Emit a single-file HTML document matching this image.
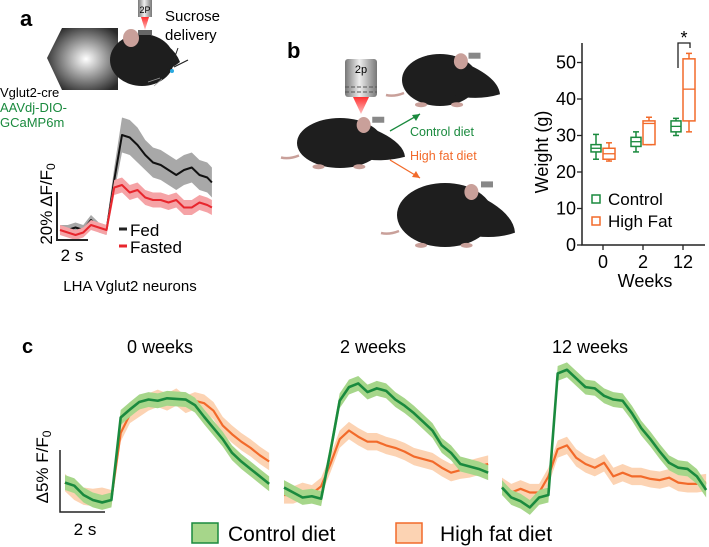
<!DOCTYPE html>
<html><head><meta charset="utf-8"><style>
html,body{margin:0;padding:0;background:#fff;}
svg{display:block;font-family:"Liberation Sans",sans-serif;}
</style></head><body>
<svg id="fig" width="709" height="547" viewBox="0 0 709 547">
<defs>
<radialGradient id="tubeG" cx="0.55" cy="0.5" r="0.6"><stop offset="0" stop-color="#fff"/><stop offset="1" stop-color="#2a2a2a"/></radialGradient>
<linearGradient id="objG" x1="0" x2="1"><stop offset="0" stop-color="#777"/><stop offset="0.45" stop-color="#eee"/><stop offset="1" stop-color="#777"/></linearGradient>
<linearGradient id="beamG" x1="0" y1="0" x2="0" y2="1"><stop offset="0" stop-color="#ff3030"/><stop offset="1" stop-color="#ffc0c0"/></linearGradient>
</defs>
<!-- Panel a -->
<text x="20" y="26" font-size="22" font-weight="bold">a</text>
<g>
<polygon points="47,58 62,28 118,28 118,90 62,90" fill="url(#tubeG)"/>
<ellipse cx="142" cy="60" rx="32" ry="26" fill="#1e1e1e"/>
<path d="M150,40 Q172,42 180,62 Q168,72 148,74 Z" fill="#1e1e1e"/>
<ellipse cx="131" cy="38" rx="8" ry="9" fill="#c9a09a"/>
<rect x="138" y="0" width="14" height="17" fill="url(#objG)"/><text x="145" y="13" font-size="9" text-anchor="middle">2P</text>
<polygon points="141,17 149,17 145,30" fill="url(#beamG)"/>
<rect x="138" y="30" width="14" height="5" fill="#666"/>
<line x1="174" y1="67" x2="188" y2="60" stroke="#222" stroke-width="1.2"/>
<line x1="178" y1="48" x2="173" y2="62" stroke="#222" stroke-width="1"/>
<circle cx="172" cy="71" r="2" fill="#29a9e0"/>
<path d="M160,78 l-12,4 M162,79 l-8,7" stroke="#999" stroke-width="0.7"/>
</g>
<text x="165" y="22" font-size="15"><tspan x="165" y="21">Sucrose</tspan><tspan x="165" y="40">delivery</tspan></text>
<text x="0" y="97" font-size="13">Vglut2-cre</text>
<text x="0" y="112" font-size="13" fill="#1a8a3e"><tspan x="0" y="112">AAVdj-DIO-</tspan><tspan x="0" y="127">GCaMP6m</tspan></text>
<g id="aTraces"></g>
<g>
<polyline points="57,192 57,240 88,240" fill="none" stroke="#222" stroke-width="2"/>
</g>
<text x="72" y="261" font-size="17" text-anchor="middle">2 s</text>
<text transform="translate(52,204) rotate(-90)" font-size="17" text-anchor="middle">20% ΔF/F<tspan font-size="12" dy="3">0</tspan></text>
<g>
<line x1="119" y1="229" x2="127" y2="229" stroke="#222" stroke-width="3"/>
<text x="130" y="236" font-size="17">Fed</text>
<line x1="119" y1="246" x2="127" y2="246" stroke="#e8262d" stroke-width="3"/>
<text x="130" y="253" font-size="17">Fasted</text>
</g>
<text x="130" y="291" font-size="15" text-anchor="middle">LHA Vglut2 neurons</text>

<!-- Panel b -->
<text x="287" y="58" font-size="22" font-weight="bold">b</text>
<g id="mice">
<rect x="345" y="59" width="32" height="38" rx="3" fill="url(#objG)"/>
<line x1="345" y1="87" x2="377" y2="87" stroke="#555" stroke-dasharray="4,2"/>
<line x1="345" y1="92" x2="377" y2="92" stroke="#555" stroke-dasharray="4,2"/>
<text x="361" y="73" font-size="11" text-anchor="middle">2p</text>
<polygon points="353,97 369,97 361,114" fill="url(#beamG)"/>
<line x1="390" y1="131" x2="420" y2="114" stroke="#1a8a3e" stroke-width="1.3"/>
<polygon points="420,114 412,115 416,121" fill="#1a8a3e"/>
<line x1="390" y1="160" x2="420" y2="178" stroke="#f26a2a" stroke-width="1.3"/>
<polygon points="420,178 416,171 412,177" fill="#f26a2a"/>
</g>
<text x="410" y="136" font-size="12.5" fill="#1a8a3e">Control diet</text>
<text x="410" y="160" font-size="12.5" fill="#f26a2a">High fat diet</text>
<g id="boxChart"></g>
<text transform="translate(548,152) rotate(-90)" font-size="18" text-anchor="middle">Weight (g)</text>
<text x="645" y="287" font-size="18" text-anchor="middle">Weeks</text>
<g>
<rect x="592" y="195" width="8" height="8" fill="#fff" stroke="#1a8a3e" stroke-width="1.5"/>
<text x="608" y="205" font-size="17">Control</text>
<rect x="592" y="217" width="8" height="8" fill="#fff" stroke="#f26a2a" stroke-width="1.5"/>
<text x="608" y="227" font-size="17">High Fat</text>
</g>
<g>
<polyline points="678,68 678,43 690,43 690,48" fill="none" stroke="#222" stroke-width="1.3"/>
<text x="684" y="44" font-size="18" text-anchor="middle">*</text>
</g>

<!-- Panel c -->
<text x="22" y="353" font-size="20" font-weight="bold">c</text>
<text x="160" y="353" font-size="18" text-anchor="middle">0 weeks</text>
<text x="373" y="353" font-size="18" text-anchor="middle">2 weeks</text>
<text x="590" y="353" font-size="18" text-anchor="middle">12 weeks</text>
<g id="cTraces"></g>
<polyline points="60,450 60,512 105,512" fill="none" stroke="#222" stroke-width="1.5"/>
<text x="85" y="535" font-size="17" text-anchor="middle">2 s</text>
<text transform="translate(48,467) rotate(-90)" font-size="17" text-anchor="middle">Δ5% F/F<tspan font-size="12" dy="3">0</tspan></text>
<g>
<rect x="192" y="523" width="26" height="20" fill="#a6d68a" stroke="#1a8a3e" stroke-width="1.5"/>
<text x="228" y="541" font-size="21">Control diet</text>
<rect x="396" y="523" width="26" height="20" fill="#fcd3b3" stroke="#f26a2a" stroke-width="1.5"/>
<text x="440" y="541" font-size="21">High fat diet</text>
</g>
</svg>
<script>
// ---------- Panel a data ----------
const aTimes = [0,0.5,1,1.5,2,2.5,3,3.5,4,4.5,5,5.5,6,6.5,7,7.5,8,8.5,9,9.5,9.8];
const aFed =    [0,0,1,0,4,1,0,20,38,37,34,30,27,26,24,22,24,25,22,21,19];
const aFasted = [0,-1,-2,-1,2,1,0,17,18,15,16,13,12,12,11,12,9,9,11,10,9];
const aFedErr = [2,2,2,2,2,2,2,5,7,7,7,6,6,6,6,6,6,6,6,6,6];
const aFastedErr = [2,2,2,2,2,2,2,3,3,3,3,3,3,3,3,3,3,3,3,3,3];

// ---------- Panel b data ----------
const bWeeks = ['0','2','12'];
const bYTicks = [0,10,20,30,40,50];
// [whiskerLow, q1, median, q3, whiskerHigh]
const bControl = [[23.5,25.5,26.5,27.5,30.3],[25.5,27,28.3,29.5,31],[30,31,32.5,34,34.7]];
const bHighFat = [[23,23.5,25,26.5,28],[27.5,27.5,33.3,34,35],[31,34,42.7,51,52.5]];

// ---------- Panel c data ----------
const cTimes = [0,0.4,0.8,1.2,1.6,2.0,2.4,2.8,3.2,3.6,4.0,4.4,4.8,5.2,5.6,6.0,6.4,6.8,7.2,7.6,8.0,8.4,8.8];
const cControl0 = [1.0,0.75,0,-0.4,-0.6,-0.4,6.25,6.9,7.5,7.7,7.6,7.8,7.75,7.7,7.25,6.3,5.4,4.5,3.4,2.7,2.1,1.5,0.9];
const cHighFat0 = [1.0,0.3,-0.1,-0.2,-0.1,-0.3,5.0,6.5,7.0,7.5,7.8,7.5,7.9,7.3,7.6,7.4,6.8,5.6,4.9,4.3,3.8,3.2,2.7];
const cControl2 = [0.6,0.2,-0.2,-0.1,-0.3,3.5,7.6,8.7,9.0,8.3,8.6,8.4,7.7,7.2,6.6,5.9,5.2,4.0,3.4,2.5,2.3,2.1,1.8];
const cHighFat2 = [0,0,0.3,0.1,0.7,2.5,4.5,5.2,4.7,4.3,4.3,4.0,3.8,3.5,3.1,2.9,2.7,2.2,1.8,2.0,2.1,2.3,2.5];
const cControl12 = [0.6,-0.2,-0.5,-1.0,-0.2,0,9.8,10.1,9.4,8.7,8.6,8.0,7.7,7.6,6.6,5.4,4.5,3.5,2.6,2.2,2.1,1.5,0.4];
const cHighFat12 = [0.7,0.2,0.5,0.2,0.2,1.5,3.7,4.0,3.0,2.5,2.2,2.6,1.5,1.8,1.5,1.5,1.3,1.2,1.4,1.0,0.9,0.9,1.0];
const cErr = [0.6,0.7];

const NS='http://www.w3.org/2000/svg';
function mk(tag, attrs, parent){const e=document.createElementNS(NS,tag);for(const k in attrs)e.setAttribute(k,attrs[k]);parent.appendChild(e);return e;}
function band(xf,yf,ts,vs,errs,fill,stroke,sw,parent,nm){
  let up=[],dn=[],ln=[];
  ts.forEach((t,i)=>{const e=Array.isArray(errs)?errs[i]:errs;up.push(xf(t)+','+yf(vs[i]+e));dn.unshift(xf(t)+','+yf(vs[i]-e));ln.push(xf(t)+','+yf(vs[i]));});
  const b=mk('polygon',{points:up.concat(dn).join(' '),fill:fill},parent);
  
  
  const l=mk('polyline',{points:ln.join(' '),fill:'none',stroke:stroke,'stroke-width':sw,'stroke-linejoin':'round'},parent);
  
  
}
// Panel a
(function(){
  const g=document.getElementById('aTraces');
  const xa=t=>60+t*15.5, ya=v=>230-v*2.5;
  band(xa,ya,aTimes,aFed,aFedErr,'#a8a8a8','#111',2,g,'fed');
  band(xa,ya,aTimes,aFasted,aFastedErr,'#f5a3a6','#e8262d',2,g,'fasted');
})();
// Panel b
(function(){
  const g=document.getElementById('boxChart');
  const yb=v=>245-v*3.65, xb=i=>603+i*40;
  const ax=mk('polyline',{points:'582,43 582,245 705,245',fill:'none',stroke:'#222','stroke-width':1.5},g);
  
  
  bYTicks.forEach(v=>{
    mk('line',{x1:577,x2:582,y1:yb(v),y2:yb(v),stroke:'#222','stroke-width':1.3},g);
    const t=mk('text',{x:576,y:yb(v)+6,'font-size':18,'text-anchor':'end'},g);t.textContent=v;
    
    
  });
  bWeeks.forEach((w,i)=>{
    mk('line',{x1:xb(i),x2:xb(i),y1:245,y2:250,stroke:'#222','stroke-width':1.3},g);
    const t=mk('text',{x:xb(i),y:268,'font-size':18,'text-anchor':'middle'},g);t.textContent=w;
    
    
  });
  function box(s,cx,w,col,nm){
    const bg=mk('g',{},g);
    
    
    mk('line',{x1:cx,x2:cx,y1:yb(s[0]),y2:yb(s[4]),stroke:col,'stroke-width':1.5},bg);
    mk('line',{x1:cx-3,x2:cx+3,y1:yb(s[0]),y2:yb(s[0]),stroke:col,'stroke-width':1.5},bg);
    mk('line',{x1:cx-3,x2:cx+3,y1:yb(s[4]),y2:yb(s[4]),stroke:col,'stroke-width':1.5},bg);
    mk('rect',{x:cx-w/2,y:yb(s[3]),width:w,height:yb(s[1])-yb(s[3]),fill:'#fff',stroke:col,'stroke-width':1.5},bg);
    mk('line',{x1:cx-w/2,x2:cx+w/2,y1:yb(s[2]),y2:yb(s[2]),stroke:col,'stroke-width':1.3},bg);
  }
  bWeeks.forEach((w,i)=>{
    box(bControl[i],xb(i)-7,10,'#1a8a3e','box-control-week-'+w);
    box(bHighFat[i],xb(i)+6,12,'#f26a2a','box-highfat-week-'+w);
  });
})();
// Mice
(function(){
  const g=document.getElementById('mice');
  function mouse(x,y,rx,ry,s,nm){
    const m=mk('g',{},g);
    
    
    mk('path',{d:`M${x-rx+2},${y+ry*0.5} q-10,4 -18,2`,stroke:'#c9a09a','stroke-width':2.5,fill:'none'},m);
    mk('ellipse',{cx:x,cy:y,rx:rx,ry:ry,fill:'#1e1e1e'},m);
    mk('path',{d:`M${x+rx*0.4},${y-ry*0.8} Q${x+rx+20*s},${y-ry*0.2} ${x+rx+22*s},${y+ry*0.55} Q${x+rx},${y+ry*0.8} ${x+rx*0.4},${y+ry*0.6} Z`,fill:'#1e1e1e'},m);
    mk('ellipse',{cx:x+rx*0.55,cy:y-ry*0.72,rx:7*s,ry:8*s,fill:'#c9a09a'},m);
    mk('ellipse',{cx:x-rx*0.5,cy:y+ry*0.95,rx:6*s,ry:2.5,fill:'#c9a09a'},m);
    mk('ellipse',{cx:x+rx*0.45,cy:y+ry*0.95,rx:6*s,ry:2.5,fill:'#c9a09a'},m);
    mk('rect',{x:x+rx*0.75,y:y-ry*1.05,width:12*s,height:6*s,fill:'#888'},m);
  }
  mouse(340,143,43,25,1,'mouse-baseline');
  mouse(440,80,38,26,1,'mouse-control-diet');
  mouse(445,215,48,32,1,'mouse-high-fat-diet');
})();
// Panel c
(function(){
  const g=document.getElementById('cTraces');
  const yc=v=>495-v*12.4;
  const panels=[[65,cControl0,cHighFat0,'0'],[284,cControl2,cHighFat2,'2'],[502,cControl12,cHighFat12,'12']];
  panels.forEach(p=>{
    const xc=t=>p[0]+t*23.2;
    band(xc,yc,cTimes,p[2],cErr[1],'#fcd3b3','#f26a2a',2.2,g,'highfat-week-'+p[3]);
    band(xc,yc,cTimes,p[1],cErr[0],'#a6d68a','#1a8a3e',2.6,g,'control-week-'+p[3]);
  });
})();
</script>
</body></html>
